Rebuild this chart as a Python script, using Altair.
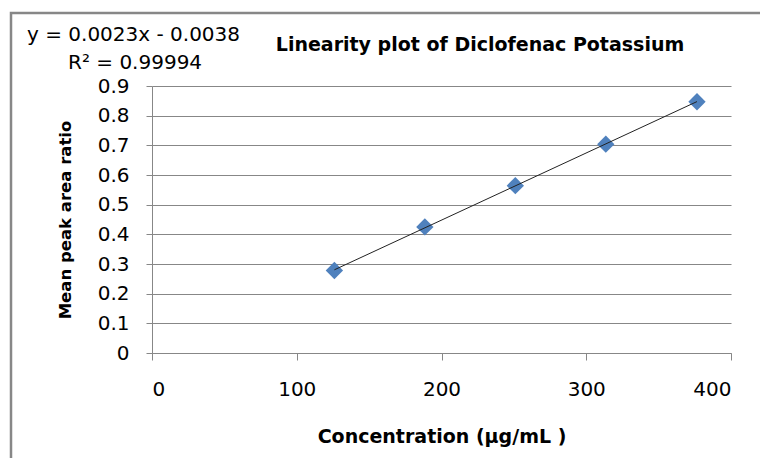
import altair as alt
import pandas as pd

concentration = [126.0, 188.5, 251.0, 313.5, 376.5]
peak_ratio = [0.278, 0.425, 0.564, 0.704, 0.847]
equation_lines = ["y = 0.0023x - 0.0038", "R² = 0.99994"]
chart_title = "Linearity plot of Diclofenac Potassium"
x_ticks = [0, 100, 200, 300, 400]
y_ticks = [0, 0.1, 0.2, 0.3, 0.4, 0.5, 0.6, 0.7, 0.8, 0.9]

df = pd.DataFrame({"conc": concentration, "ratio": peak_ratio})

FONT = "DejaVu Sans"
GRAY = "#878787"

x_enc = alt.X("conc:Q", scale=alt.Scale(domain=[0, 400], nice=False),
              axis=alt.Axis(values=x_ticks, title="Concentration (µg/mL )", grid=False,
                            tickSize=7, labelPadding=19, titlePadding=28, tickCount=5,
                            labelFontSize=20, titleFontSize=19,
                            domainColor=GRAY, tickColor=GRAY))
y_enc = alt.Y("ratio:Q", scale=alt.Scale(domain=[0, 0.9], nice=False),
              axis=alt.Axis(values=y_ticks, format=".1~f", title="Mean peak area ratio",
                            tickSize=6, labelPadding=17, titlePadding=24, tickCount=10,
                            labelOverlap=False, labelFontSize=20, titleFontSize=16.5,
                            gridColor=GRAY, domainColor=GRAY, tickColor=GRAY))

points = alt.Chart(df).mark_point(shape="diamond", filled=True, size=300,
                                  color="#4F81BD", opacity=1).encode(x=x_enc, y=y_enc)

trend = alt.Chart(df).transform_regression("conc", "ratio").mark_line(
    color="#222222", strokeWidth=1).encode(x=x_enc, y=y_enc)

eq_df = pd.DataFrame({"t": [equation_lines[0]]})
r2_df = pd.DataFrame({"t": [equation_lines[1]]})
title_df = pd.DataFrame({"t": [chart_title]})

eq = alt.Chart(eq_df).mark_text(align="left", baseline="middle", fontSize=20, font=FONT,
                                color="#000000").encode(
    text="t:N", x=alt.value(-125), y=alt.value(-51))
r2 = alt.Chart(r2_df).mark_text(align="left", baseline="middle", fontSize=20, font=FONT,
                                color="#000000").encode(
    text="t:N", x=alt.value(-84), y=alt.value(-23))
title = alt.Chart(title_df).mark_text(align="center", baseline="middle", fontSize=19,
                                      font=FONT, fontWeight="bold", color="#000000").encode(
    text="t:N", x=alt.value(328), y=alt.value(-41))

frame = alt.Chart(eq_df).mark_rect(fill=None, stroke=GRAY, strokeWidth=2.5).encode(
    x=alt.value(-141), x2=alt.value(640), y=alt.value(-73), y2=alt.value(400))

chart = alt.layer(points, trend, frame, eq, r2, title).properties(
    width=579, height=267,
    autosize=alt.AutoSizeParams(type="none"),
    padding={"left": 144, "top": 78, "right": 29, "bottom": 105},
).configure_view(stroke=None).configure_axis(
    labelFont=FONT, titleFont=FONT,
    titleFontWeight="bold", labelColor="#000000", titleColor="#000000"
)

chart.save("out.html", embed_options={"renderer": "svg", "actions": False})
